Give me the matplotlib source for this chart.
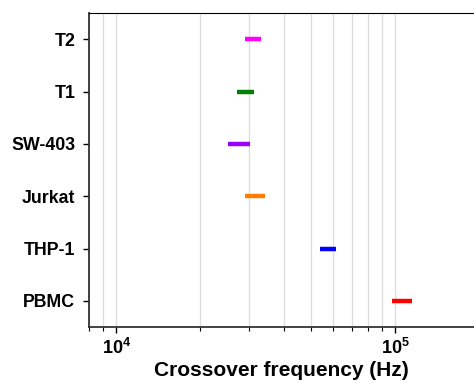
import numpy as np
import matplotlib.pyplot as plt
from matplotlib.ticker import LogLocator, FixedLocator, NullFormatter

plt.rcParams['font.family'] = ['Liberation Sans', 'DejaVu Sans']
plt.rcParams['mathtext.fontset'] = 'custom'
plt.rcParams['mathtext.bf'] = 'Liberation Sans:bold'
plt.rcParams['mathtext.rm'] = 'Liberation Sans:bold'

# data (bottom to top)
cells = ['PBMC', 'THP-1', 'Jurkat', 'SW-403', 'T1', 'T2']
f_low = [97300, 54000, 29100, 25100, 27100, 29100]
f_high = [115400, 61300, 34100, 30100, 31100, 33100]
colors = ['#ff0000', '#0000ff', '#ff8000', '#9900ff', '#008000', '#ff00ff']

fig = plt.figure(figsize=(4.74, 3.83), dpi=100)
ax = fig.add_axes([0.188, 0.146, 0.812, 0.82])

ypos = np.arange(len(cells))
ax.hlines(ypos, f_low, f_high, colors=colors, linewidth=3.2, zorder=3)

ax.set_xscale('log')
ax.set_xlim(8000, 1.92e5)
ax.set_ylim(-0.5, len(cells) - 0.5)

ax.xaxis.set_major_locator(FixedLocator([1e4, 1e5]))
ax.xaxis.set_minor_locator(LogLocator(base=10, subs=np.arange(2, 10)))
ax.xaxis.set_minor_formatter(NullFormatter())
ax.set_xticklabels([r'$\mathbf{10^{4}}$', r'$\mathbf{10^{5}}$'])
ax.grid(axis='x', which='both', color='#dcdcdc', linewidth=0.9, zorder=0)

ax.set_yticks(ypos)
ax.set_yticklabels(cells, fontsize=12.8, fontweight='bold')
ax.tick_params(axis='x', which='major', labelsize=13, length=4, width=1, pad=4)
ax.tick_params(axis='x', which='minor', length=3, width=0.8)
ax.tick_params(axis='y', length=4, width=1, pad=6)

ax.set_xlabel('Crossover frequency (Hz)', fontsize=15, fontweight='bold', labelpad=2)

for s in ['left', 'bottom']:
    ax.spines[s].set_linewidth(1.3)
    ax.spines[s].set_color('#333333')
ax.spines['top'].set_linewidth(0.8)
ax.spines['right'].set_visible(False)

fig.savefig('out.png', dpi=100)
